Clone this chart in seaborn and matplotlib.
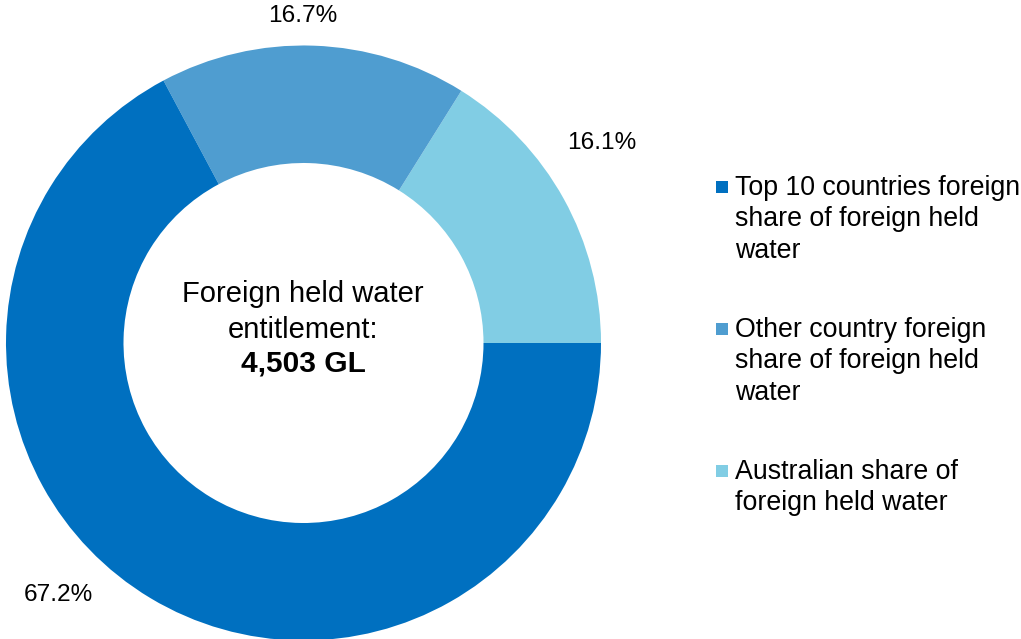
import matplotlib
matplotlib.use("Agg")
import matplotlib.pyplot as plt
from matplotlib.patches import Rectangle
import seaborn as sns

# Shares of foreign held water entitlement
categories = [
    "Top 10 countries foreign\nshare of foreign held\nwater",
    "Other country foreign\nshare of foreign held\nwater",
    "Australian share of\nforeign held water",
]
shares = [67.2, 16.7, 16.1]
colors = ["#0070C0", "#4F9DD0", "#81CDE4"]
total_label = "4,503 GL"
center_title = "Foreign held water\nentitlement:"

sns.set_theme(style="white")
plt.rcParams["font.family"] = ["Liberation Sans", "DejaVu Sans"]

W, H = 1021, 639
fig = plt.figure(figsize=(W / 100, H / 100), dpi=100)
fig.patch.set_facecolor("white")


def fx(x):
    return x / W


def fy(y):
    return 1 - y / H


# donut axes: centre (303.5, 343), radius 297.5 px
cx, cy, R = 303.5, 343.0, 297.5
ax = fig.add_axes([fx(cx - R), fy(cy + R), 2 * R / W, 2 * R / H])

# drawn counter-clockwise from 3 o'clock: Australian, Other, Top 10
order = [2, 1, 0]
wedges, _ = ax.pie(
    [shares[i] for i in order],
    colors=[colors[i] for i in order],
    startangle=0,
    counterclock=True,
    radius=1.0,
    wedgeprops=dict(width=1 - 180 / 297.5, linewidth=0),
)
ax.set_xlim(-1, 1)
ax.set_ylim(-1, 1)
ax.set_aspect("auto")
ax.axis("off")

label_fs = 17.6
# value labels outside the ring
label_pos = {0: (58, 595), 1: (303, 16), 2: (602, 143)}
for i, v in enumerate(shares):
    x, y = label_pos[i]
    fig.text(fx(x), fy(y), f"{v:.1f}%", ha="center", va="center",
             fontsize=label_fs, color="#000000")

# centre text
fig.text(fx(303), fy(312), center_title, ha="center", va="center",
         fontsize=21, color="#000000", linespacing=1.32)
fig.text(fx(303), fy(364), total_label, ha="center", va="center",
         fontsize=21.5, color="#000000", fontweight="bold")

# legend
legend_tops = [187, 329, 471]
for i, lab in enumerate(categories):
    y0 = legend_tops[i]
    fig.patches.append(Rectangle((fx(716), fy(y0 + 6)), 12 / W, 12 / H,
                                 transform=fig.transFigure,
                                 facecolor=colors[i], edgecolor="none"))
    fig.text(fx(735), fy(y0 - 12), lab, ha="left", va="top",
             fontsize=19.3, color="#000000", linespacing=1.27)

fig.savefig("out.png", dpi=100, facecolor="white")
